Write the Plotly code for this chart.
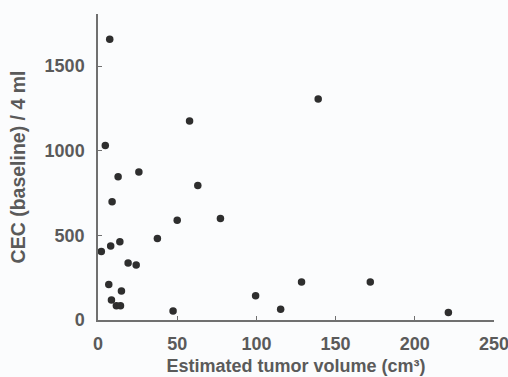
import plotly.graph_objects as go

tumor_volume = [7.4, 4.6, 57.8, 25.8, 12.7, 63.0, 8.9, 50.0, 77.3, 37.5, 13.8, 8.0, 2.1,
                19.0, 24.1, 6.8, 14.8, 8.5, 11.6, 14.2, 47.4,
                139.0, 99.5, 115.3, 128.5, 171.9, 221.2]
cec_baseline = [1659, 1031, 1176, 875, 847, 794, 698, 590, 600, 482, 463, 437, 404,
                337, 325, 210, 172, 118, 84, 84, 53,
                1306, 143, 63, 225, 225, 45]

x_ticks = [0, 50, 100, 150, 200, 250]
y_ticks = [0, 500, 1000, 1500]

fig = go.Figure(go.Scatter(
    x=tumor_volume, y=cec_baseline, mode="markers",
    marker=dict(color="#2e2e2e", size=7.5),
    cliponaxis=False,
))

txt_color = "#5a5a5a"
fig.update_layout(
    width=508, height=377,
    margin=dict(l=98, r=14, t=14, b=57, autoexpand=False),
    paper_bgcolor="#fbfcfd", plot_bgcolor="#fbfcfd",
    showlegend=False, hovermode=False,
    font=dict(family="Liberation Sans, Arial, sans-serif", size=18, color=txt_color),
)
fig.update_xaxes(
    range=[0, 250], tickvals=x_ticks, ticktext=[f"<b>{v}</b>" for v in x_ticks],
    showgrid=False, zeroline=False, showline=True, linecolor="#707070", linewidth=1.5,
    ticks="inside", ticklen=4, tickcolor="#707070", ticklabelstandoff=7,
    ticklabeloverflow="allow",
    title=dict(text="<b>Estimated tumor volume (cm³)</b>", font=dict(size=18, color=txt_color), standoff=6),
)
fig.update_yaxes(
    range=[0, 1808], tickvals=y_ticks, ticktext=[f"<b>{v}</b>" for v in y_ticks],
    showgrid=False, zeroline=False, showline=True, linecolor="#707070", linewidth=1.5,
    ticks="inside", ticklen=4, tickcolor="#707070", ticklabelstandoff=8,
    ticklabeloverflow="allow",
    title=dict(text="<b>CEC (baseline) / 4 ml</b>", font=dict(size=19.5, color=txt_color), standoff=14),
)

fig.write_html("out.html", config={"displayModeBar": False},
               post_script="document.body.style.margin='0';")
